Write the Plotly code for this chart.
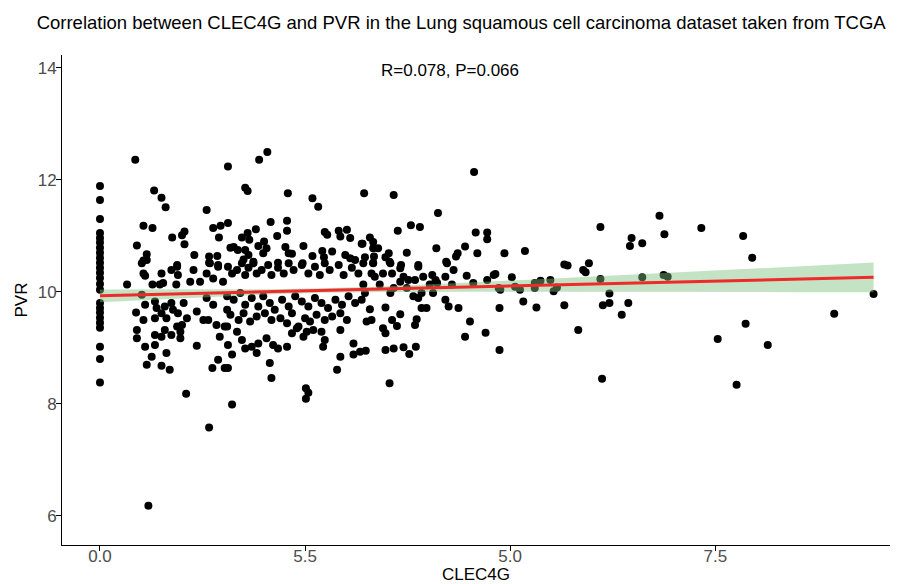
import plotly.graph_objects as go

title_text = "Correlation between CLEC4G and PVR in the Lung squamous cell carcinoma dataset taken from TCGA"
stat_text = "R=0.078, P=0.066"

# Samples with CLEC4G = 0
zero_pvr = [11.89, 11.64, 11.30, 11.05, 10.96, 10.88, 10.79, 10.70, 10.61, 10.52, 10.43, 10.34,
            10.25, 10.14, 10.04, 9.80, 9.71, 9.63, 9.54, 9.45, 9.36, 9.02, 8.80, 8.38]

clec4g = [
    0.43, 1.56, 0.66, 0.75, 0.80, 1.30, 0.53, 0.64, 1.38, 1.47, 1.56, 0.88, 1.03, 1.00, 1.45, 0.45, 1.03,
    0.57, 0.53, 1.15, 1.33, 1.43, 0.94, 1.33, 1.44, 1.59,
    2.04, 1.94, 1.77, 1.80, 2.29, 2.59, 2.66, 3.22, 2.08, 2.28, 2.28, 1.90, 1.80, 1.73, 1.82, 2.16, 2.74,
    2.77, 2.91, 3.01, 2.93, 3.05, 3.19, 2.48, 1.63, 1.68, 2.00, 1.93, 2.03, 1.99, 2.26, 2.30, 2.34, 1.77,
    1.81, 1.75, 1.87, 2.59, 2.71, 2.83, 2.73, 2.99, 3.05, 3.11, 2.17, 2.47,
    4.56, 3.58, 4.12, 3.63, 3.79, 3.90, 4.58, 4.72, 4.72, 3.29, 3.33, 3.20, 3.33, 3.39, 3.23, 3.34, 3.33,
    3.52, 3.48, 3.53, 3.74, 4.10, 4.45, 4.36, 4.34, 4.60, 4.22, 3.67, 3.88,
    0.33, 0.51, 0.57, 0.53, 0.55, 0.64, 0.73, 0.77, 0.75, 0.87, 0.95, 0.94, 0.93, 1.14, 1.22, 1.10, 1.34,
    1.30, 1.44, 1.38, 1.50, 0.51, 0.44, 0.53, 0.55, 0.67, 0.69, 0.75, 0.79, 0.87, 0.81, 0.89, 0.95, 1.02,
    0.94, 1.00, 1.06, 0.67, 1.18, 1.30, 1.26, 1.32, 1.38, 1.42, 1.55, 1.52, 0.45, 0.45, 0.67, 0.75, 0.79,
    0.87, 0.98, 0.55, 0.67, 0.81, 1.18, 0.98, 0.63, 0.57, 0.75, 0.85, 1.44, 1.52, 1.37, 1.46,
    1.56, 1.61, 1.67, 1.73, 1.77, 1.81, 1.87, 1.91, 1.97, 2.05, 2.09, 2.17, 2.24, 2.30, 2.36, 2.46, 2.54,
    2.62, 2.68, 2.74, 2.80, 2.91, 2.97, 3.07, 3.15, 3.21,
    1.55, 1.63, 1.71, 1.77, 1.85, 1.93, 1.99, 2.07, 2.13, 2.22, 2.30, 2.38, 2.46, 2.54, 2.62, 2.70, 2.78,
    2.87, 2.95, 3.03, 3.11, 3.19,
    1.59, 1.69, 1.75, 1.83, 1.91, 2.01, 2.09, 2.20, 2.28, 2.34, 2.42, 2.50, 2.56, 2.64, 2.74, 2.83, 2.93,
    3.01,
    1.55, 1.67, 1.73, 1.77, 1.56, 1.61, 1.85, 1.91, 1.93, 2.03, 2.11, 2.17, 2.28, 2.34, 2.40, 2.48, 2.52,
    2.60, 2.70, 2.74, 2.72, 2.93, 3.09, 3.17, 3.09,
    1.56, 2.07, 2.09, 2.93, 2.89,
    1.61, 2.51, 2.54, 2.51, 1.05, 1.33, 0.59,
    3.33, 3.31, 3.35, 3.45, 3.54, 3.56, 3.66, 3.70, 3.76, 3.84, 3.88, 3.94, 4.05, 4.09, 4.21, 4.23, 4.31,
    4.47, 4.55, 4.72, 4.80, 4.86, 3.21, 3.23, 3.41, 3.54, 3.58, 3.66, 3.74, 3.82, 3.88, 3.92, 4.06, 4.02,
    4.11, 4.29, 4.21, 4.25, 4.37, 3.29, 3.48, 3.25, 3.31, 3.56, 3.62, 3.66, 3.86, 3.84, 3.92, 3.98, 3.45,
    3.48, 4.51, 4.70, 4.45, 3.24, 3.48, 3.58, 3.70, 3.77, 3.85, 3.53, 4.87, 4.87,
    4.82, 4.93, 5.18, 5.02, 4.88, 5.06, 5.12, 5.30, 5.30, 5.37, 5.49, 5.53, 5.57, 5.16, 5.32, 5.66, 5.66,
    5.70, 5.89, 5.92, 5.96, 6.10, 6.10, 6.21, 6.13, 6.21, 6.44, 6.36, 5.83, 6.12, 6.48, 6.46, 6.61, 6.61,
    6.82, 6.88, 6.87, 6.92,
    7.33, 7.84, 7.95, 9.43, 8.95, 7.87, 7.53, 8.14, 7.76,
]

pvr = [
    12.36, 12.24, 11.81, 11.68, 11.51, 11.46, 11.18, 11.14, 11.14, 11.18, 11.23, 10.97, 11.08, 11.01, 10.97,
    10.83, 10.85, 10.67, 10.56, 10.66, 10.63, 10.64, 10.48, 10.52, 10.48, 10.79,
    12.50, 12.36, 11.86, 11.80, 11.76, 11.67, 11.52, 11.76, 11.25, 11.27, 11.09, 11.12, 11.05, 10.97, 10.93,
    11.00, 11.07, 11.02, 11.09, 11.11, 10.99, 10.96, 10.86, 10.82, 10.80, 10.75, 10.90, 10.82, 10.78, 10.69,
    10.80, 10.69, 10.68, 10.75, 10.66, 10.58, 10.54, 10.64, 10.73, 10.72, 10.62, 10.66, 10.60, 10.57, 10.52,
    10.51,
    12.14, 11.73, 11.41, 11.09, 11.19, 11.16, 11.06, 11.06, 10.94, 10.97, 10.89, 10.86, 10.78, 10.78, 10.62,
    10.63, 10.52, 10.69, 10.62, 10.54, 10.70, 10.78, 10.81, 10.69, 10.63, 10.69, 10.54, 10.48, 10.48,
    10.13, 10.51, 10.57, 10.33, 10.29, 10.13, 10.13, 10.16, 10.33, 10.39, 10.30, 10.45, 10.13, 10.39, 10.18,
    10.18, 10.51, 10.33, 10.45, 10.24, 10.18, 9.95, 9.63, 9.50, 9.77, 9.83, 9.71, 9.62, 9.74, 9.80, 9.53,
    9.68, 9.62, 9.80, 9.38, 9.41, 9.53, 9.53, 9.65, 9.89, 9.50, 9.50, 9.77, 9.41, 9.68, 9.38, 9.32, 9.17,
    9.23, 9.20, 9.32, 9.23, 9.29, 9.02, 9.05, 8.91, 9.04, 9.17, 8.84, 8.70, 8.68, 8.61, 8.79, 8.64, 8.64,
    9.20,
    10.45, 10.33, 10.39, 10.51, 10.30, 10.43, 10.51, 10.33, 10.39, 10.48, 10.30, 10.43, 10.33, 10.51, 10.39,
    10.48, 10.33, 10.45, 10.30, 10.51, 10.39, 10.48, 10.30, 10.43, 10.33, 10.51,
    9.92, 9.86, 9.98, 9.77, 9.89, 9.74, 9.92, 9.80, 9.68, 9.86, 9.74, 9.92, 9.83, 9.74, 9.89, 9.80, 9.71,
    9.86, 9.77, 9.92, 9.80, 9.86,
    9.59, 9.50, 9.62, 9.47, 9.56, 9.62, 9.50, 9.53, 9.44, 9.62, 9.38, 9.53, 9.47, 9.59, 9.50, 9.56, 9.62,
    9.50,
    9.38, 9.29, 9.14, 8.99, 9.05, 8.88, 9.02, 8.91, 9.08, 9.17, 9.05, 8.99, 9.02, 9.26, 9.35, 9.20, 9.29,
    9.32, 9.29, 9.14, 9.02, 9.32, 9.08, 8.93, 8.88,
    8.64, 8.73, 8.46, 8.84, 8.61,
    7.99, 8.28, 8.20, 8.09, 8.18, 7.58, 6.18,
    10.51, 10.33, 10.27, 10.33, 10.51, 10.33, 10.42, 10.27, 10.21, 10.21, 10.45, 10.27, 10.30, 10.21, 10.27,
    10.51, 10.39, 10.29, 10.16, 10.21, 10.30, 10.07, 10.13, 9.98, 10.13, 9.98, 10.07, 10.18, 10.07, 9.92,
    9.89, 9.98, 9.98, 10.13, 10.16, 10.13, 9.86, 9.74, 9.71, 9.69, 9.72, 9.47, 9.50, 9.50, 9.39, 9.60, 9.51,
    9.41, 9.71, 9.71, 9.35, 9.26, 9.47, 9.27, 9.20, 8.95, 8.96, 8.99, 9.01, 8.89, 9.02, 8.37, 9.71, 8.96,
    10.32, 10.69, 10.73, 10.26, 10.04, 10.09, 10.04, 10.16, 10.07, 10.20, 10.21, 10.01, 10.08, 9.83, 9.72,
    9.76, 10.49, 10.47, 10.39, 10.35, 10.51, 11.16, 10.23, 9.97, 9.76, 9.80, 9.80, 9.59, 9.32, 8.45, 10.96,
    10.82, 10.87, 10.26, 11.36, 11.03, 10.30, 10.27,
    11.14, 11.00, 10.61, 9.96, 9.61, 9.43, 9.16, 9.05, 8.34,
]

# Fitted regression line and its 95% confidence band
fit_x = [0.0, 1.0, 2.0, 2.7, 3.5, 4.5, 5.5, 6.5, 7.5, 8.5, 9.43]
fit_y = [9.93, 9.965, 10.00, 10.025, 10.05, 10.085, 10.12, 10.155, 10.19, 10.225, 10.26]
band_lo = [9.817, 9.888, 9.952, 9.985, 9.999, 10.004, 10.004, 10.001, 9.999, 9.995, 9.994]
band_hi = [10.043, 10.042, 10.048, 10.065, 10.101, 10.166, 10.236, 10.309, 10.381, 10.455, 10.526]

x_all = [0.0] * len(zero_pvr) + clec4g
y_all = zero_pvr + pvr

font_fam = "Liberation Sans, Arial, Helvetica, sans-serif"

fig = go.Figure()
fig.add_trace(go.Scatter(x=x_all, y=y_all, mode="markers",
                         marker=dict(size=8, color="black"), showlegend=False, hoverinfo="skip"))
fig.add_trace(go.Scatter(x=fit_x + fit_x[::-1], y=band_hi + band_lo[::-1],
                         mode="lines", fill="toself", fillcolor="rgba(125,192,125,0.45)",
                         line=dict(width=0), showlegend=False, hoverinfo="skip"))
fig.add_trace(go.Scatter(x=fit_x, y=fit_y, mode="lines", line=dict(color="#ee2a2a", width=3),
                         showlegend=False, hoverinfo="skip"))

fig.add_annotation(x=4.27, y=13.96, text=stat_text, showarrow=False,
                   font=dict(size=17, color="black", family=font_fam))

fig.update_layout(
    width=906, height=584,
    margin=dict(l=62, r=16, t=55, b=39),
    paper_bgcolor="white", plot_bgcolor="white",
    font=dict(family=font_fam, color="black"),
    title=dict(text=title_text, x=0.509, xref="container", xanchor="center",
               y=0.962, yref="container", yanchor="middle",
               font=dict(size=18.5, color="black", family=font_fam)),
    xaxis=dict(range=[-0.463, 9.63], showgrid=False, zeroline=False, showline=True, automargin=False,
               linecolor="black", linewidth=1, ticks="outside", ticklen=5, tickcolor="black",
               tickvals=[0, 2.5, 5.0, 7.5], ticktext=["0.0", "5.5", "5.0", "7.5"],
               tickfont=dict(size=17, color="#4d4d4d"),
               title=dict(text="CLEC4G", font=dict(size=17, color="black"), standoff=0)),
    yaxis=dict(range=[5.48, 14.23], showgrid=False, zeroline=False, showline=True, automargin=False,
               linecolor="black", linewidth=1, ticks="outside", ticklen=5, tickcolor="black",
               tickvals=[6, 8, 10, 12, 14], tickfont=dict(size=17, color="#4d4d4d"),
               title=dict(text="PVR", font=dict(size=17, color="black"), standoff=5)),
)

# pull tick labels closer to the axes (as in the reference)
try:
    fig.update_xaxes(ticklabelstandoff=-9)
    fig.update_yaxes(ticklabelstandoff=-4)
except Exception:
    pass

fig.write_html("out.html", config={"displayModeBar": False},
               post_script="document.body.style.margin='0px';")
